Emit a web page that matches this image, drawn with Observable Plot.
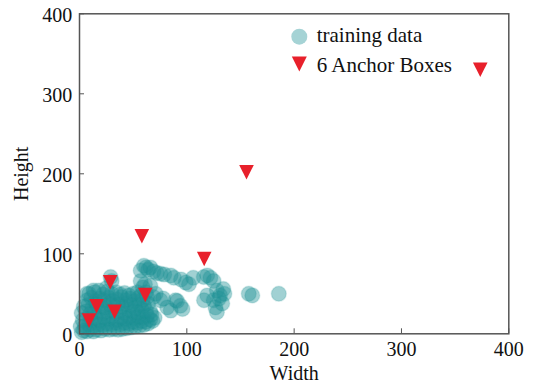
<!DOCTYPE html>
<html>
<head>
<meta charset="utf-8">
<script src="https://cdn.jsdelivr.net/npm/d3@7"></script>
<script src="https://cdn.jsdelivr.net/npm/@observablehq/plot@0.6"></script>
<style>
  html, body { margin: 0; padding: 0; background: #fff; }
  #chart { position: relative; width: 534px; height: 385px; }
</style>
</head>
<body>
<div id="chart"></div>
<script>
// training data: [width, height]
const trainingData = [
  [2,2],[4,4],[7,3],[10,5],[13,3],[16,5],[20,4],[24,6],[28,5],[32,6],[36,5],[40,6],[44,7],[48,8],[52,9],[56,10],[60,11],[64,13],[68,16],
  [1,9],[5,10],[9,12],[14,10],[18,12],[22,11],[26,13],[30,12],[34,14],[38,12],[42,14],[46,13],[50,15],[54,14],[58,16],[62,15],[66,18],[70,20],
  [3,17],[7,19],[11,18],[15,20],[19,17],[23,21],[27,19],[31,22],[35,18],[39,21],[43,19],[47,22],[51,20],[55,22],[59,21],[63,23],[67,24],
  [2,26],[6,28],[10,25],[14,27],[18,29],[22,26],[26,28],[30,30],[34,27],[38,29],[42,26],[46,30],[50,28],[54,27],[58,30],[62,29],[66,28],
  [4,34],[8,36],[12,33],[16,37],[20,35],[24,33],[28,38],[32,35],[36,37],[40,34],[44,38],[48,36],[52,33],[56,37],[60,35],[64,38],
  [7,42],[11,45],[15,41],[19,44],[23,42],[27,45],[31,41],[35,43],[39,46],[43,42],[47,44],[51,41],[55,45],[59,43],[63,46],
  [9,50],[14,52],[18,54],[22,49],[26,53],[30,50],[34,52],[38,49],[42,51],[46,48],[50,50],[54,52],[58,49],[62,52],
  [59,58],[66,60],[61,62],[57,66],[29,71],[30,66],[25,57],[13,54],[7,50],
  [57,79],[60,85],[62,83],[66,83],[64,80],[69,78],[72,76],[75.5,75],[79,74],[85,73],[88,70],[94.6,68],[99,64],[102,62],[106,70],
  [115.8,71],[119,73],[122,70],[125,66],
  [128,54],[134,56],[131,48],[125,42],[119,48],[116,42],[126.7,33],[133,38],[128,27],[130,44],[135,50],
  [157.7,50],[161,48],[185.7,50],
  [81.7,33],[85,29],[89.5,42],[94,35],[96,31],[91,41],[75.5,42],[69,46],[71,50],[78,44]
];
// anchor boxes: [width, height]
const anchorBoxes = [
  [373.4,330],[155.6,202],[58.1,122],[116.2,93.5],[28.6,64.5],[61.3,48.5],[15.9,34.5],[32.7,27.5],[8.9,16.5]
];
const xTicks = [0, 100, 200, 300, 400];
const yTicks = [0, 100, 200, 300, 400];
const legendLabels = ["training data", "6 Anchor Boxes"];

const teal = "#1e9196";
const red = "#e8202b";
const axisColor = "#555";
const font = "'Liberation Serif', 'Times New Roman', serif";

// downward isosceles triangle (matplotlib 'v')
const triangleDown = {
  draw(context, size) {
    const s = Math.sqrt(size / Math.PI);
    context.moveTo(-s, -s);
    context.lineTo(s, -s);
    context.lineTo(0, s);
    context.closePath();
  }
};

const chart = Plot.plot({
  width: 534,
  height: 385,
  marginLeft: 79,
  marginRight: 25.7,
  marginTop: 13.3,
  marginBottom: 51.7,
  style: { fontFamily: font, fontSize: "20px", color: "#111", background: "white" },
  x: { domain: [0, 400] },
  y: { domain: [0, 400] },
  marks: [
    Plot.dot(trainingData, {
      x: d => d[0], y: d => d[1], r: 7.5,
      fill: teal, fillOpacity: 0.42, stroke: teal, strokeOpacity: 0.15
    }),
    Plot.dot(anchorBoxes, {
      x: d => d[0], y: d => d[1], r: 7.3, symbol: triangleDown, fill: red
    }),
    Plot.frame({ stroke: axisColor, strokeWidth: 1.5 }),
    Plot.axisX(xTicks, { tickSize: 5, dy: -5, text: null, stroke: axisColor, label: null }),
    Plot.axisY(yTicks, { tickSize: 5, dx: 5, text: null, stroke: axisColor, label: null }),
    Plot.axisX(xTicks, { tickSize: 0, tickPadding: 8, fontSize: 20, label: "Width", labelAnchor: "center", labelArrow: "none", labelOffset: 46 }),
    Plot.axisY(yTicks, { tickSize: 0, tickPadding: 7.3, dy: 1.5, fontSize: 20, label: "Height", labelAnchor: "center", labelArrow: "none", labelOffset: 66 })
  ]
});

// legend inside plot area
const svg = d3.select(chart);
const lg = svg.append("g").attr("font-family", font).attr("font-size", 21)
  .attr("fill", "#111").attr("text-anchor", "start");
lg.append("circle").attr("cx", 299.3).attr("cy", 36.7).attr("r", 8)
  .attr("fill", teal).attr("fill-opacity", 0.4);
lg.append("text").attr("x", 316.7).attr("y", 42).attr("text-anchor", "start").text(legendLabels[0]);
lg.append("path").attr("transform", "translate(299.3,64)")
  .attr("d", "M-7.5,-7.5L7.5,-7.5L0,7.5Z").attr("fill", red);
lg.append("text").attr("x", 316.7).attr("y", 71.5).attr("text-anchor", "start").text(legendLabels[1]);

document.getElementById("chart").appendChild(chart);
</script>
</body>
</html>
